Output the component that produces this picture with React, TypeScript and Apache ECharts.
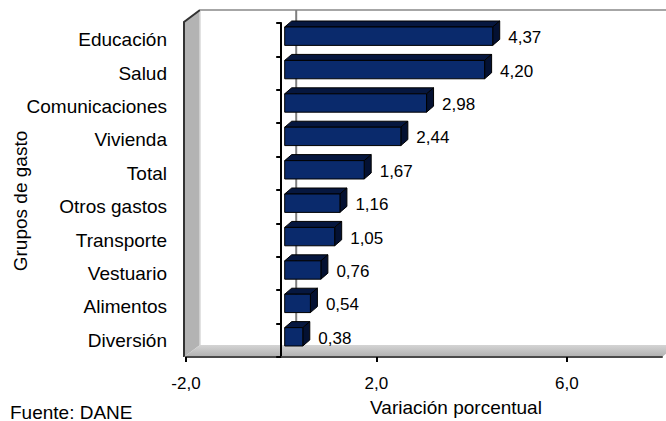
import React, { useEffect, useRef } from "react";
import * as echarts from "echarts";

const categories = [
  "Educación",
  "Salud",
  "Comunicaciones",
  "Vivienda",
  "Total",
  "Otros gastos",
  "Transporte",
  "Vestuario",
  "Alimentos",
  "Diversión",
];
const values = [4.37, 4.2, 2.98, 2.44, 1.67, 1.16, 1.05, 0.76, 0.54, 0.38];
const xTicks = [-2, 2, 6];

const FONT = "'Liberation Sans', Arial, sans-serif";
const GRID = { left: 186, top: 23, width: 476, height: 334 };
const DEPTH = { dx: 15, dy: -12 };

const fmt = (v: number, d: number) => v.toFixed(d).replace(".", ",");

export default function App() {
  const ref = useRef<HTMLDivElement>(null);

  useEffect(() => {
    if (!ref.current) return;
    const chart = echarts.init(ref.current, null, { renderer: "svg" });
    const L = GRID.left;
    const T = GRID.top;
    const R = GRID.left + GRID.width;
    const B = GRID.top + GRID.height;
    const { dx, dy } = DEPTH;

    const option: any = {
      animation: false,
      backgroundColor: "#ffffff",
      grid: {
        left: L,
        top: T,
        width: GRID.width,
        height: GRID.height,
        containLabel: false,
        outerBoundsMode: "none",
      },
      xAxis: {
        type: "value",
        min: -2,
        max: 8,
        interval: 4,
        position: "bottom",
        splitLine: { show: false },
        axisLine: { show: true, onZero: false, lineStyle: { color: "#4a4a4a", width: 2 } },
        axisTick: {
          show: true,
          length: 5,
          customValues: xTicks,
          lineStyle: { color: "#000", width: 2 },
        },
        axisLabel: {
          customValues: xTicks,
          formatter: (v: number) => fmt(v, 1),
          margin: 18,
          fontSize: 17,
          color: "#000",
          fontFamily: FONT,
        },
      },
      yAxis: {
        type: "category",
        data: categories,
        inverse: true,
        axisLine: { show: true, onZero: true, lineStyle: { color: "#000", width: 2 } },
        axisTick: { show: true, length: 5, lineStyle: { color: "#000", width: 2 } },
        axisLabel: {
          margin: 19,
          fontSize: 19,
          color: "#000",
          fontFamily: FONT,
        },
        splitLine: { show: false },
      },
      graphic: {
        elements: [
          {
            type: "polygon",
            z: -5,
            shape: { points: [[L - 2, T - 1], [L + dx - 1, T + dy - 1], [L + dx - 1, B + dy], [L - 2, B]] },
            style: { fill: "#b3b3b3" },
          },
          {
            type: "line",
            z: -4,
            shape: { x1: L + dx - 1, y1: T + dy - 1, x2: L + dx - 1, y2: B + dy },
            style: { stroke: "#d8d8d8", lineWidth: 1.5 },
          },
          {
            type: "polyline",
            z: -4,
            shape: { points: [[L - 2, B], [L - 2, T - 1], [L + dx - 1, T + dy - 1]] },
            style: { stroke: "#333", lineWidth: 2, fill: null },
          },
          {
            type: "line",
            z: -4,
            shape: { x1: L + dx - 1, y1: T + dy - 1, x2: 666, y2: T + dy - 1 },
            style: { stroke: "#a6a6a6", lineWidth: 2 },
          },
          {
            type: "polygon",
            z: -3,
            shape: { points: [[L - 2, B], [L + dx - 1, B + dy], [R + dx, B + dy], [R, B]] },
            style: {
              fill: {
                type: "linear",
                x: 0,
                y: 0,
                x2: 0,
                y2: 1,
                colorStops: [
                  { offset: 0, color: "#d4d4d4" },
                  { offset: 1, color: "#b0b0b0" },
                ],
              },
            },
          },
          {
            type: "text",
            x: 20,
            y: 201,
            rotation: Math.PI / 2,
            style: {
              text: "Grupos de gasto",
              x: 0,
              y: 0,
              align: "center",
              verticalAlign: "middle",
              fontSize: 19,
              fill: "#000",
              fontFamily: FONT,
            },
          },
          {
            type: "text",
            style: {
              text: "Variación porcentual",
              x: 456,
              y: 407,
              align: "center",
              verticalAlign: "middle",
              fontSize: 19,
              fill: "#000",
              fontFamily: FONT,
            },
          },
          {
            type: "text",
            style: {
              text: "Fuente: DANE",
              x: 10,
              y: 412,
              align: "left",
              verticalAlign: "middle",
              fontSize: 19,
              fill: "#000",
              fontFamily: FONT,
            },
          },
        ],
      },
      series: [
        {
          type: "custom",
          z: 1,
          data: [[0, 0]],
          encode: { x: 0, y: 1 },
          renderItem: (params: any, api: any) => {
            const p = api.coord([api.value(0), 0]);
            return {
              type: "line",
              shape: { x1: p[0] + dx, y1: T + dy - 1, x2: p[0] + dx, y2: B + dy },
              style: { stroke: "#7f7f7f", lineWidth: 2 },
            };
          },
        },
        {
          type: "custom",
          z: 3,
          data: values.map((v, i) => [i, v]),
          encode: { y: 0, x: 1 },
          renderItem: (params: any, api: any) => {
            const idx = api.value(0);
            const v = api.value(1);
            const p0 = api.coord([0, idx]);
            const p1 = api.coord([v, idx]);
            const band = api.size([0, 1])[1];
            const h = band * 0.55;
            const ox = 3.5;
            const oy = -3.5;
            const ddx = 7;
            const ddy = -6;
            const x0 = p0[0] + ox;
            const x1 = p1[0] + ox;
            const yT = p0[1] + oy - h / 2;
            const yB = yT + h;
            return {
              type: "group",
              children: [
                {
                  type: "polygon",
                  shape: { points: [[x0, yT], [x0 + ddx, yT + ddy], [x1 + ddx, yT + ddy], [x1, yT]] },
                  style: { fill: "#06173f", stroke: "#000", lineWidth: 1 },
                },
                {
                  type: "polygon",
                  shape: { points: [[x1, yT], [x1 + ddx, yT + ddy], [x1 + ddx, yB + ddy], [x1, yB]] },
                  style: { fill: "#041132", stroke: "#000", lineWidth: 1 },
                },
                {
                  type: "rect",
                  shape: { x: x0, y: yT, width: x1 - x0, height: h },
                  style: { fill: "#0a2a6c", stroke: "#000", lineWidth: 1 },
                },
                {
                  type: "text",
                  style: {
                    text: fmt(v, 2),
                    x: p1[0] + 19,
                    y: p1[1] - 2,
                    align: "left",
                    verticalAlign: "middle",
                    fontSize: 17,
                    fill: "#000",
                    fontFamily: FONT,
                  },
                },
              ],
            };
          },
        },
      ],
    };
    chart.setOption(option);
    return () => chart.dispose();
  }, []);

  return (
    <div
      ref={ref}
      style={{ position: "fixed", left: 0, top: 0, width: 666, height: 421 }}
    />
  );
}
